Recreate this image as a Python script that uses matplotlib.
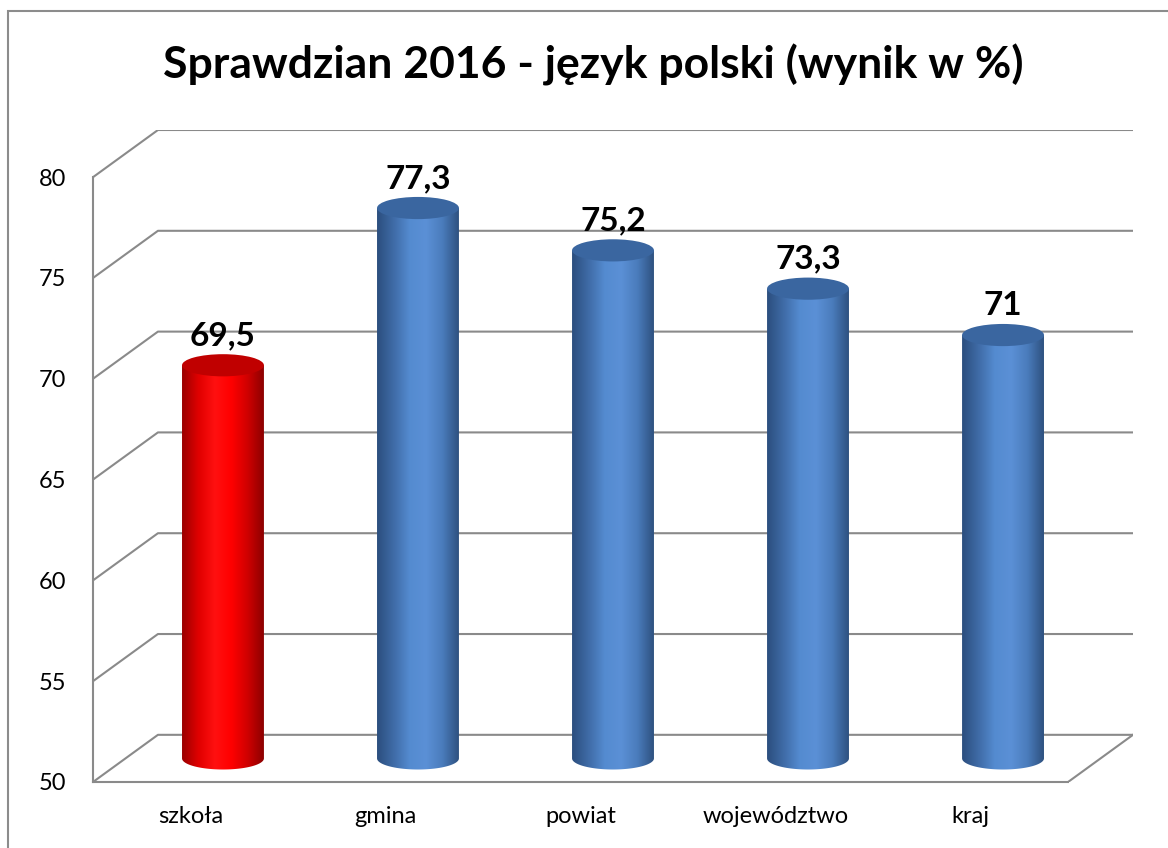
import numpy as np
import matplotlib
matplotlib.use("Agg")
import matplotlib.pyplot as plt
from matplotlib.colors import LinearSegmentedColormap
from matplotlib.patches import Ellipse, PathPatch, Rectangle
from matplotlib.path import Path

plt.rcParams['font.family'] = ['Lato', 'DejaVu Sans']

# data
categories = ["szkoła", "gmina", "powiat", "województwo", "kraj"]
values = [69.5, 77.3, 75.2, 73.3, 71]
labels = ["69,5", "77,3", "75,2", "73,3", "71"]
yticks = [50, 55, 60, 65, 70, 75, 80]
title = "Sprawdzian 2016 - język polski (wynik w %)"

# 3d look: depth offset (in category units / value units)
DX = 0.333
DY = 2.34
HALF_W = 0.21
ELL_H = 0.55

red_cmap = LinearSegmentedColormap.from_list(
    "red", ["#9a0000", "#e00000", "#ff1010", "#ff0000", "#d00000", "#8c0000"])
blue_cmap = LinearSegmentedColormap.from_list(
    "blue", ["#2b4e7e", "#3f6ba6", "#548bd0", "#5b90d6", "#4a7cbc", "#2e5180"])

fig = plt.figure(figsize=(11.68, 8.48), dpi=100)
# chart area border (cut off at right / bottom)
fig.patches.append(Rectangle((8 / 1168, -0.1), 1.2, 1.1 - 11 / 848,
                             transform=fig.transFigure, fill=False,
                             edgecolor="#8c8c8c", lw=1.5))

ax = fig.add_axes([93 / 1168, 66 / 848, 1040 / 1168, 652 / 848])
ax.set_xlim(-0.5, 4.5 + DX)
ax.set_ylim(50, 80 + DY)
for s in ["top", "right"]:
    ax.spines[s].set_visible(False)
for s in ["left", "bottom"]:
    ax.spines[s].set_color("#8a8a8a")
    ax.spines[s].set_linewidth(1.5)
ax.spines["left"].set_bounds(50, 80)
ax.spines["bottom"].set_bounds(-0.5, 4.5)
ax.set_yticks(yticks)
ax.set_yticklabels([str(t) for t in yticks], fontsize=17)
ax.set_xticks(range(len(categories)))
ax.set_xticklabels(categories, fontsize=17)
ax.tick_params(axis="y", length=0, pad=19)
ax.tick_params(axis="x", length=0, pad=17)

# perspective gridlines and floor
for v in yticks:
    ax.plot([-0.5, -0.5 + DX, 4.5 + DX], [v, v + DY, v + DY],
            color="#8a8a8a", lw=1.5, zorder=1)
ax.plot([4.5, 4.5 + DX], [50, 50 + DY], color="#8a8a8a", lw=1.5, zorder=1)

grad = np.linspace(0, 1, 256).reshape(1, -1)
for i, (v, lab) in enumerate(zip(values, labels)):
    cx = i + DX / 2
    y0 = 50 + DY / 2
    y1 = v + DY / 2
    cmap = red_cmap if i == 0 else blue_cmap
    top_col = "#c00000" if i == 0 else "#3a66a0"
    t = np.linspace(np.pi, 2 * np.pi, 60)
    bottom_x = cx + HALF_W * np.cos(t)
    bottom_y = y0 + ELL_H * np.sin(t)
    px = np.concatenate([[cx - HALF_W], bottom_x, [cx + HALF_W, cx - HALF_W]])
    py = np.concatenate([[y1], bottom_y, [y1, y1]])
    path = Path(np.column_stack([px, py]))
    clip = PathPatch(path, transform=ax.transData, facecolor="none", edgecolor="none")
    ax.add_patch(clip)
    im = ax.imshow(grad, cmap=cmap, aspect="auto",
                   extent=[cx - HALF_W, cx + HALF_W, y0 - ELL_H, y1],
                   zorder=3, interpolation="bilinear")
    im.set_clip_path(clip)
    ax.add_patch(Ellipse((cx, y1), 2 * HALF_W, 2 * ELL_H, angle=0,
                         facecolor=top_col, edgecolor="none", zorder=4))
    ax.text(cx, y1 + 1.0, lab, ha="center", va="baseline",
            fontsize=24, fontweight="bold", zorder=5)

ax.set_xlim(-0.5, 4.5 + DX)
ax.set_ylim(50, 80 + DY)

fig.text(593 / 1168, 1 - 65 / 848, title, ha="center", va="center",
         fontsize=32, fontweight="bold")

fig.savefig("out.png", dpi=100)
